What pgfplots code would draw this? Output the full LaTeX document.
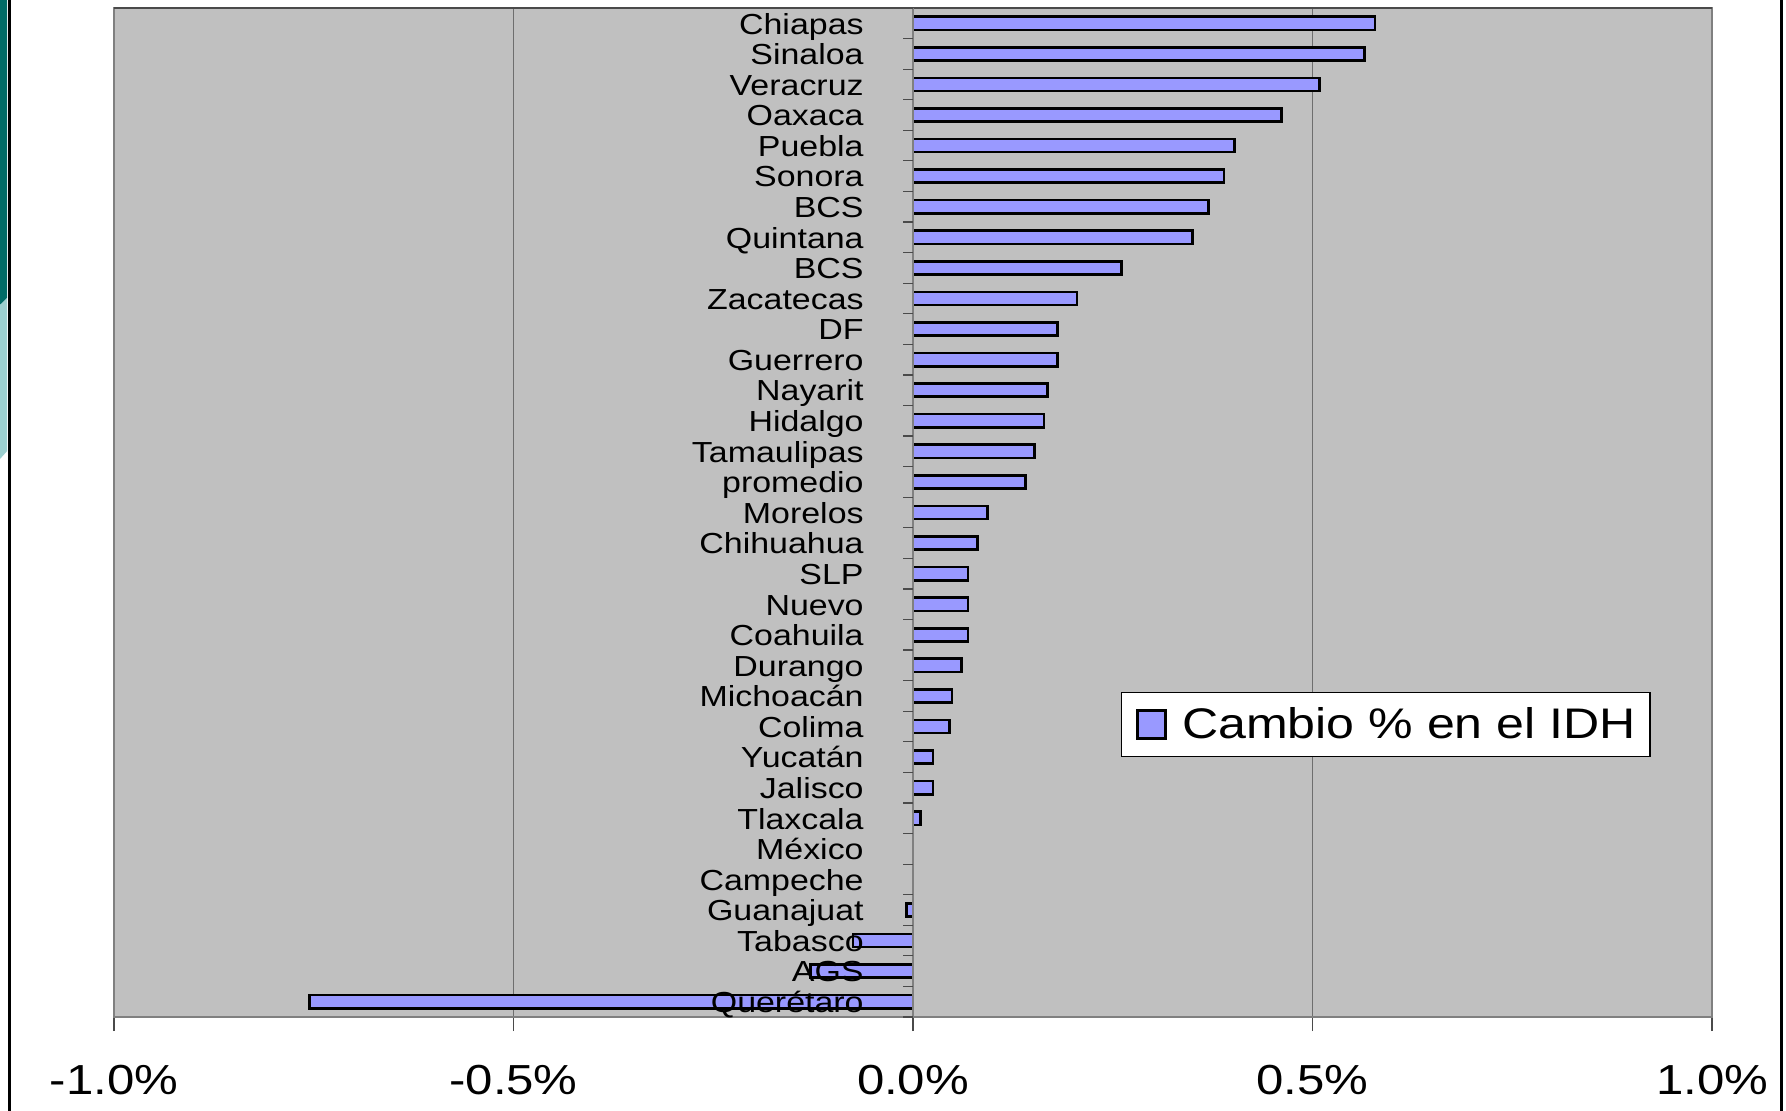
\documentclass[border=0pt]{standalone}
\usepackage{fontspec}
\setmainfont{Liberation Sans}[FakeStretch=1.17]
\usepackage{pgfplots}
\usepackage{pgfplotstable}
\pgfplotsset{compat=1.18}

\definecolor{plotbg}{HTML}{C0C0C0}
\definecolor{framegray}{HTML}{808080}
\definecolor{gridgray}{HTML}{6E6E6E}
\definecolor{tickgray}{HTML}{4A4A4A}
\definecolor{barfill}{HTML}{9999FF}
\definecolor{tealdark}{HTML}{006B66}
\definecolor{teallight}{HTML}{9CCFCF}

% Cambio porcentual en el IDH por entidad (0 = Chiapas, arriba)
\pgfplotstableread{
idx value
0  0.578
1  0.565
2  0.509
3  0.461
4  0.402
5  0.389
6  0.370
7  0.350
8  0.261
9  0.205
10 0.181
11 0.181
12 0.168
13 0.164
14 0.152
15 0.141
16 0.093
17 0.081
18 0.069
19 0.069
20 0.069
21 0.061
22 0.049
23 0.046
24 0.025
25 0.025
26 0.009
29 -0.008
30 -0.075
31 -0.128
32 -0.755
}\idhdata

\newcommand{\lblfont}{\fontsize{14.5}{17}\selectfont}
\newcommand{\tickfont}{\fontsize{21}{25}\selectfont}
\newcommand{\legfont}{\fontsize{21.4}{25}\selectfont}

\begin{document}
\begin{tikzpicture}
% side decoration
\fill[tealdark] (0pt,555.5pt) -- (3.6pt,555.5pt) -- (3.6pt,406.5pt) -- (0pt,403pt) -- cycle;
\fill[teallight] (0pt,403pt) -- (3.6pt,406.5pt) -- (3.6pt,330pt) -- (0pt,326pt) -- cycle;
\draw[black, line width=1.5pt] (4.5pt,0pt) -- (4.5pt,555.5pt);
\draw[black, line width=1.5pt] (890.8pt,0pt) -- (890.8pt,555.5pt);

% bars, frame, grid and x axis
\begin{axis}[
  at={(57pt,47pt)}, anchor=south west, scale only axis,
  width=799pt, height=504.5pt,
  xmin=-1, xmax=1, ymin=-0.5, ymax=32.5, y dir=reverse,
  axis background/.style={fill=plotbg},
  axis line style={framegray, line width=1.3pt},
  xtick={-1,-0.5,0,0.5,1},
  xticklabels={-1.0\%,-0.5\%,0.0\%,0.5\%,1.0\%},
  xtick pos=lower, ytick=\empty,
  tick align=outside, major tick length=7pt,
  tick style={color=tickgray, line width=0.7pt},
  xmajorgrids, major grid style={gridgray, line width=0.7pt},
  xticklabel style={font=\tickfont, anchor=base, inner sep=0pt, yshift=-31.5pt},
  xbar, bar width=6.6pt, bar shift=0pt,
  legend style={at={(0.6302,0.3221)}, anchor=north west,
    draw=black, line width=0.6pt, fill=white,
    inner xsep=5pt, inner ysep=5.5pt, font=\legfont},
  legend cell align=left,
  legend image code/.code={\path[draw=none, fill=none] (0pt,0pt) -- (3pt,0pt);
    \draw[#1, line width=1.2pt] (3pt,-7pt) rectangle (17pt,7pt);},
]
\addplot[draw=black, fill=barfill, line width=1.3pt] table[x=value, y=idx] {\idhdata};
\addlegendentry{\hspace{5.7pt}Cambio \% en el IDH}
\draw[tickgray, line width=0.8pt] (rel axis cs:0,1) -- (rel axis cs:1,1);
\end{axis}

% category axis at zero
\begin{axis}[
  at={(57pt,47pt)}, anchor=south west, scale only axis,
  width=799pt, height=504.5pt,
  xmin=-1, xmax=1, ymin=-0.5, ymax=32.5, y dir=reverse,
  axis x line=none, axis y line=middle,
  y axis line style={-, framegray, line width=1pt},
  xtick=\empty,
  ytick={0,...,32},
  yticklabels={Chiapas,Sinaloa,Veracruz,Oaxaca,Puebla,Sonora,BCS,Quintana,BCS,Zacatecas,DF,Guerrero,Nayarit,Hidalgo,Tamaulipas,promedio,Morelos,Chihuahua,SLP,Nuevo,{Coahuila\ },Durango,Michoacán,Colima,Yucatán,Jalisco,Tlaxcala,México,Campeche,Guanajuat,Tabasco,AGS,Querétaro},
  major tick length=0pt,
  yticklabel style={font=\lblfont, anchor=base east, inner sep=0pt, xshift=-24.5pt, yshift=-5.4pt},
  extra y ticks={-0.5,0.5,...,32.5},
  extra y tick labels={},
  extra y tick style={major tick length=5pt, tick align=outside, tick style={color=tickgray, line width=0.6pt}},
]
\end{axis}
% page frame
\pgfresetboundingbox
\path (0pt,0pt) rectangle (893pt,555.5pt);
\end{tikzpicture}
\end{document}
